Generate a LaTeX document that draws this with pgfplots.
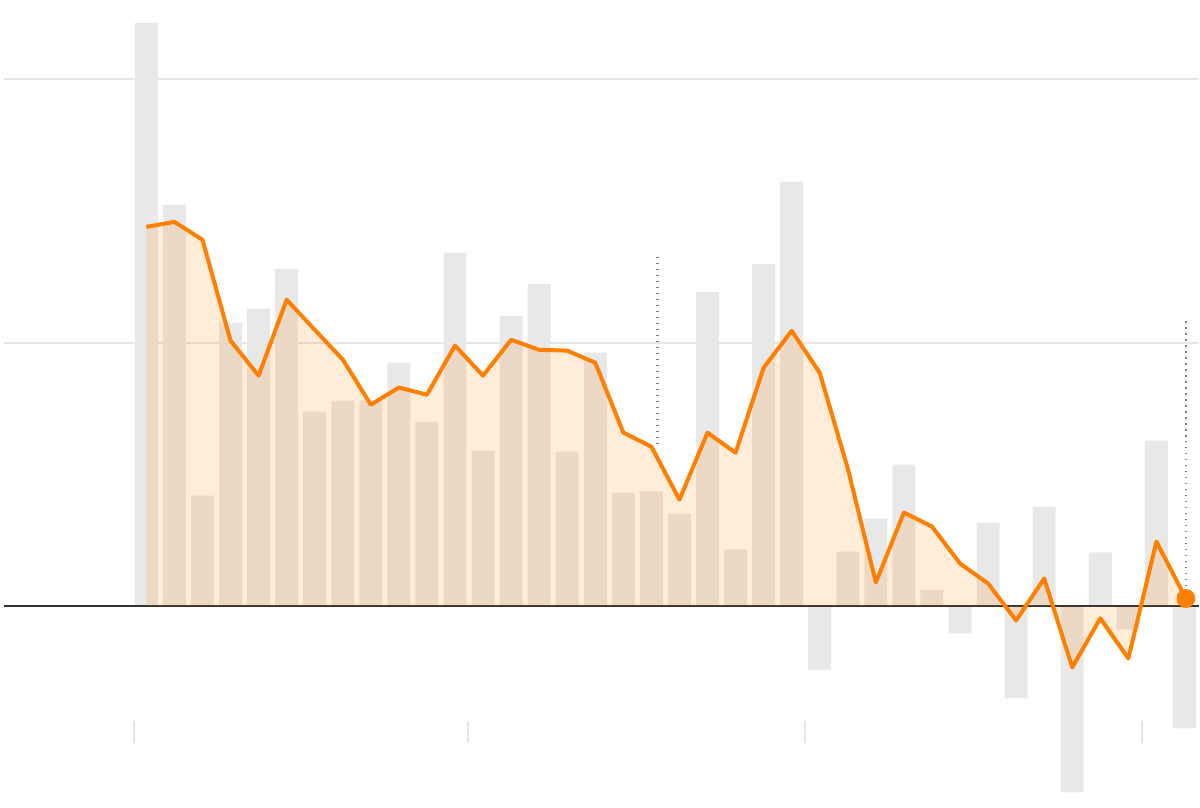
\documentclass[border=0pt]{standalone}
\usepackage{pgfplots}
\pgfplotsset{compat=1.18}
\definecolor{barGray}{RGB}{232,232,232}
\definecolor{gridGray}{RGB}{230,230,230}
\definecolor{lineOrange}{RGB}{255,127,0}
\definecolor{zeroDark}{RGB}{51,51,51}
\definecolor{dotGray}{RGB}{125,125,125}
\begin{document}
\begin{tikzpicture}
\begin{axis}[
  scale only axis, width=600pt, height=404pt,
  xmin=-5.217, xmax=37.518, ymin=-7.614, ymax=22.992,
  hide axis, clip=false,
]
\path (rel axis cs:0,0) rectangle (rel axis cs:1,1);
% gridlines
\draw[gridGray, line width=1pt] (axis cs:-5.075,10) -- (axis cs:37.518,10);
\draw[gridGray, line width=1pt] (axis cs:-5.075,20) -- (axis cs:37.518,20);
% bottom ticks
\foreach \t in {-0.445,11.48,23.49,35.49}{
  \edef\tmp{\noexpand\draw[gridGray, line width=1pt] (axis cs:\t,-4.36) -- (axis cs:\t,-5.19);}\tmp
}
% bars
\addplot[ybar, bar width=11.5pt, fill=barGray, draw=none] coordinates {
(0,22.12) (1,15.23) (2,4.20) (3,10.76) (4,11.29) (5,12.80) (6,7.39) (7,7.80)
(8,7.80) (9,9.24) (10,7.01) (11,13.41) (12,5.91) (13,11.02) (14,12.23) (15,5.87)
(16,9.62) (17,4.32) (18,4.36) (19,3.52) (20,11.93) (21,2.16) (22,12.99) (23,16.10)
(24,-2.39) (25,2.08) (26,3.33) (27,5.38) (28,0.64) (29,-1.02) (30,3.18) (31,-3.48)
(32,3.79) (33,-7.05) (34,2.05) (35,-0.87) (36,6.29) (37,-4.62)
};
% zero line
\draw[zeroDark, line width=1pt] (axis cs:-5.075,0) -- (axis cs:37.518,0);
% dotted markers
\draw[dotGray, line width=1.1pt, dash pattern=on 0.9pt off 2.1pt] (axis cs:18.22,13.26) -- (axis cs:18.22,6.14);
\draw[dotGray, line width=1.1pt, dash pattern=on 0.9pt off 2.1pt] (axis cs:37.05,10.83) -- (axis cs:37.05,0.5);
% area
\addplot[draw=none, fill=lineOrange, fill opacity=0.15] coordinates {
(0,14.39) (1,14.58) (2,13.90) (3,10.08) (4,8.75) (5,11.63) (6,10.49) (7,9.36)
(8,7.65) (9,8.30) (10,8.03) (11,9.89) (12,8.75) (13,10.11) (14,9.73) (15,9.70)
(16,9.24) (17,6.59) (18,6.06) (19,4.05) (20,6.59) (21,5.83) (22,9.05) (23,10.45)
(24,8.86) (25,5.23) (26,0.91) (27,3.56) (28,3.03) (29,1.63) (30,0.87) (31,-0.53)
(32,1.06) (33,-2.31) (34,-0.45) (35,-1.97) (36,2.46) (37.05,0.30)
} \closedcycle;
% line
\addplot[lineOrange, line width=2pt, line join=round, mark=none] coordinates {
(0,14.39) (1,14.58) (2,13.90) (3,10.08) (4,8.75) (5,11.63) (6,10.49) (7,9.36)
(8,7.65) (9,8.30) (10,8.03) (11,9.89) (12,8.75) (13,10.11) (14,9.73) (15,9.70)
(16,9.24) (17,6.59) (18,6.06) (19,4.05) (20,6.59) (21,5.83) (22,9.05) (23,10.45)
(24,8.86) (25,5.23) (26,0.91) (27,3.56) (28,3.03) (29,1.63) (30,0.87) (31,-0.53)
(32,1.06) (33,-2.31) (34,-0.45) (35,-1.97) (36,2.46) (37.05,0.30)
};
\addplot[only marks, mark=*, mark size=4.5pt, color=lineOrange] coordinates {(37.05,0.30)};
\end{axis}
\end{tikzpicture}
\end{document}
